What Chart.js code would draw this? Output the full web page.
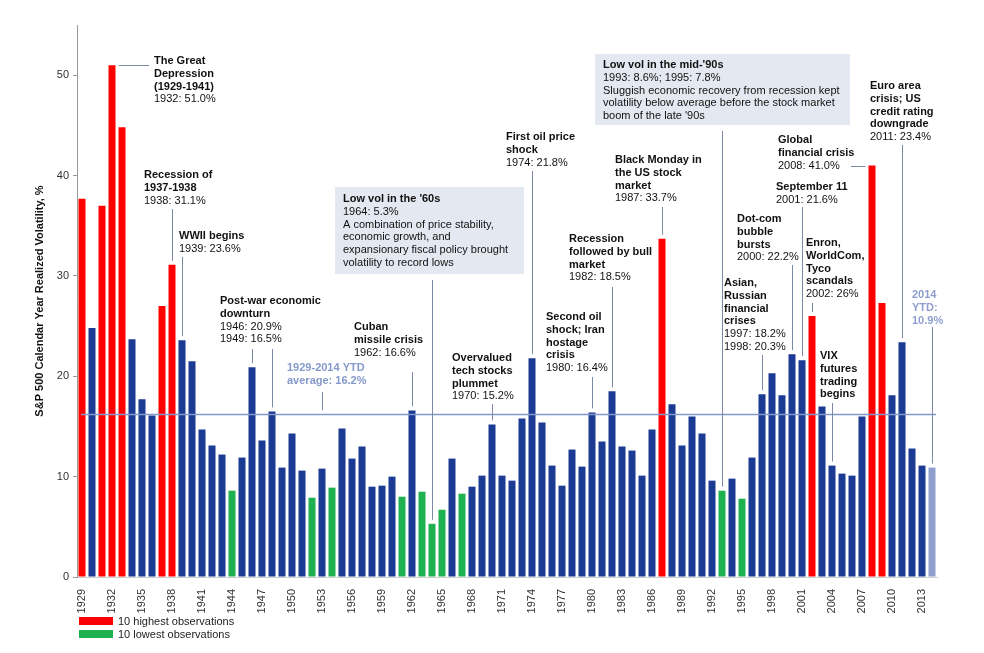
<!DOCTYPE html>
<html><head><meta charset="utf-8">
<script src="https://cdn.jsdelivr.net/npm/chart.js@4.4.0/dist/chart.umd.min.js"></script>
<style>html,body{margin:0;padding:0;background:#fff;} canvas{display:block;}</style>
</head><body>
<canvas id="c" width="984" height="653" style="width:984px;height:653px"></canvas>
<script>
const years = [1929,1930,1931,1932,1933,1934,1935,1936,1937,1938,1939,1940,1941,1942,1943,1944,1945,1946,1947,1948,1949,1950,1951,1952,1953,1954,1955,1956,1957,1958,1959,1960,1961,1962,1963,1964,1965,1966,1967,1968,1969,1970,1971,1972,1973,1974,1975,1976,1977,1978,1979,1980,1981,1982,1983,1984,1985,1986,1987,1988,1989,1990,1991,1992,1993,1994,1995,1996,1997,1998,1999,2000,2001,2002,2003,2004,2005,2006,2007,2008,2009,2010,2011,2012,2013,2014];
const vol = [37.7,24.8,37.0,51.0,44.8,23.7,17.7,16.1,27.0,31.1,23.6,21.5,14.7,13.1,12.2,8.6,11.9,20.9,13.6,16.5,10.9,14.3,10.6,7.9,10.8,8.9,14.8,11.8,13.0,9.0,9.1,10.0,8.0,16.6,8.5,5.3,6.7,11.8,8.3,9.0,10.1,15.2,10.1,9.6,15.8,21.8,15.4,11.1,9.1,12.7,11.0,16.4,13.5,18.5,13.0,12.6,10.1,14.7,33.7,17.2,13.1,16.0,14.3,9.6,8.6,9.8,7.8,11.9,18.2,20.3,18.1,22.2,21.6,26.0,17.0,11.1,10.3,10.1,16.0,41.0,27.3,18.1,23.4,12.8,11.1,10.9];
const highYears = [1929,1931,1932,1933,1937,1938,1987,2002,2008,2009];
const lowYears = [1944,1952,1954,1961,1963,1964,1965,1967,1993,1995];
const ytdYear = 2014;
const tickYears = [1929,1932,1935,1938,1941,1944,1947,1950,1953,1956,1959,1962,1965,1968,1971,1974,1977,1980,1983,1986,1989,1992,1995,1998,2001,2004,2007,2010,2013];
const yTicks = [0,10,20,30,40,50];
const AVG = 16.2;

const FONT = '"Liberation Sans", Arial, Helvetica, sans-serif';
const C_BLUE = '#1b3a94', C_RED = '#ff0000', C_GREEN = '#1fb14f', C_YTD = '#8e9fcf';
const C_AVG = '#8598ca', C_LEAD = '#7d8aa6', C_BOX = '#e4e8f0', C_TEXT = '#111111';
const LH = 12.8;

const barColors = years.map(y => highYears.includes(y) ? C_RED : lowYears.includes(y) ? C_GREEN : y === ytdYear ? C_YTD : C_BLUE);

const notes = [
  {x:154, y:61, lines:[['The Great',1],['Depression',1],['(1929-1941)',1],['1932: 51.0%',0]], leaders:[{year:1932, h:149}]},
  {x:144, y:175, lines:[['Recession of',1],['1937-1938',1],['1938: 31.1%',0]], leaders:[{year:1938, from:209}]},
  {x:179, y:236, lines:[['WWII begins',1],['1939: 23.6%',0]], leaders:[{year:1939, from:257}]},
  {x:220, y:301, lines:[['Post-war economic',1],['downturn',1],['1946: 20.9%',0],['1949: 16.5%',0]], leaders:[{year:1946, from:349},{year:1948, from:349}]},
  {x:287, y:368, color:C_AVG, lines:[['1929-2014 YTD',1],['average: 16.2%',1]], leaders:[{year:1953, value:AVG, from:392}]},
  {x:354, y:327, lines:[['Cuban',1],['missile crisis',1],['1962: 16.6%',0]], leaders:[{year:1962, from:372}]},
  {box:[335,187,524,274], x:343, y:199, lines:[["Low vol in the '60s",1],['1964: 5.3%',0],['A combination of price stability,',0],['economic growth, and',0],['expansionary fiscal policy brought',0],['volatility to record lows',0]], leaders:[{year:1964, from:280}]},
  {x:452, y:358, lines:[['Overvalued',1],['tech stocks',1],['plummet',1],['1970: 15.2%',0]], leaders:[{year:1970, from:404}]},
  {x:506, y:137, lines:[['First oil price',1],['shock',1],['1974: 21.8%',0]], leaders:[{year:1974, from:171}]},
  {x:546, y:317, lines:[['Second oil',1],['shock; Iran',1],['hostage',1],['crisis',1],['1980: 16.4%',0]], leaders:[{year:1980, from:377}]},
  {x:569, y:239, lines:[['Recession',1],['followed by bull',1],['market',1],['1982: 18.5%',0]], leaders:[{year:1982, from:287}]},
  {x:615, y:160, lines:[['Black Monday in',1],['the US stock',1],['market',1],['1987: 33.7%',0]], leaders:[{year:1987, from:207}]},
  {box:[595,54,850,125], x:603, y:65, lines:[["Low vol in the mid-'90s",1],['1993: 8.6%; 1995: 7.8%',0],['Sluggish economic recovery from recession kept',0],['volatility below average before the stock market',0],["boom of the late '90s",0]], leaders:[{year:1993, from:131}]},
  {x:724, y:283, lines:[['Asian,',1],['Russian',1],['financial',1],['crises',1],['1997: 18.2%',0],['1998: 20.3%',0]], leaders:[{year:1997, from:355}]},
  {x:737, y:219, lines:[['Dot-com',1],['bubble',1],['bursts',1],['2000: 22.2%',0]], leaders:[{year:2000, from:265}]},
  {x:776, y:187, lines:[['September 11',1],['2001: 21.6%',0]], leaders:[{year:2001, from:207}]},
  {x:778, y:140, lines:[['Global',1],['financial crisis',1],['2008: 41.0%',0]], leaders:[{year:2008, h:851}]},
  {x:806, y:243, lines:[['Enron,',1],['WorldCom,',1],['Tyco',1],['scandals',1],['2002: 26%',0]], leaders:[{year:2002, from:303}]},
  {x:820, y:356, lines:[['VIX',1],['futures',1],['trading',1],['begins',1]], leaders:[{year:2004, from:403}]},
  {x:870, y:86, lines:[['Euro area',1],['crisis; US',1],['credit rating',1],['downgrade',1],['2011: 23.4%',0]], leaders:[{year:2011, from:145}]},
  {x:912, y:295, color:C_YTD, lines:[['2014',1],['YTD:',1],['10.9%',1]], leaders:[{year:2014, from:327}]}
];

const legendItems = [['10 highest observations', C_RED], ['10 lowest observations', C_GREEN]];

const notesPlugin = {
  id: 'notes',
  afterDatasetsDraw(chart) {
    const {ctx, chartArea: a, scales: {y}} = chart;
    const meta = chart.getDatasetMeta(0);
    ctx.save();
    // average line
    const ay = Math.round(y.getPixelForValue(AVG)) + 0.5;
    ctx.strokeStyle = C_AVG; ctx.lineWidth = 1.6;
    ctx.beginPath(); ctx.moveTo(a.left + 4, ay); ctx.lineTo(a.right - 1, ay); ctx.stroke();
    for (const n of notes) {
      if (n.box) {
        ctx.fillStyle = C_BOX;
        ctx.fillRect(n.box[0], n.box[1], n.box[2] - n.box[0], n.box[3] - n.box[1]);
      }
      ctx.textBaseline = 'middle'; ctx.textAlign = 'left';
      n.lines.forEach(([t, b], k) => {
        ctx.font = (b ? 'bold ' : '') + '11px ' + FONT;
        ctx.fillStyle = n.color || C_TEXT;
        ctx.fillText(t, n.x, n.y + k * LH);
      });
      ctx.strokeStyle = C_LEAD; ctx.lineWidth = 1;
      for (const L of n.leaders) {
        const bar = meta.data[years.indexOf(L.year)];
        const top = L.value !== undefined ? y.getPixelForValue(L.value) : bar.y;
        ctx.beginPath();
        if (L.h !== undefined) {
          const bx = L.h < bar.x ? bar.x - bar.width / 2 - 3 : bar.x + bar.width / 2 + 3;
          const yy = Math.round(top) + 0.5;
          ctx.moveTo(L.h, yy); ctx.lineTo(bx, yy);
        } else {
          const lx = Math.round(bar.x) + 0.5;
          ctx.moveTo(lx, L.from); ctx.lineTo(lx, top - 4);
        }
        ctx.stroke();
      }
    }
    // legend
    ctx.font = '11px ' + FONT; ctx.textBaseline = 'middle';
    legendItems.forEach(([t, c], k) => {
      const ly = 617 + k * 13;
      ctx.fillStyle = c; ctx.fillRect(79, ly, 34, 8);
      ctx.fillStyle = '#222'; ctx.fillText(t, 118, ly + 4.5);
    });
    ctx.restore();
  }
};

new Chart(document.getElementById('c'), {
  type: 'bar',
  data: {
    labels: years.map(String),
    datasets: [{data: vol, backgroundColor: barColors, barPercentage: 0.7, categoryPercentage: 1.0}]
  },
  options: {
    responsive: false, animation: false, devicePixelRatio: 1,
    layout: {padding: {left: 0, right: 47, top: 25, bottom: 0}},
    plugins: {legend: {display: false}, tooltip: {enabled: false}},
    scales: {
      x: {
        grid: {display: false},
        border: {display: true, color: '#cfcfcf'},
        ticks: {
          autoSkip: false, maxRotation: 90, minRotation: 90, padding: 4,
          font: {family: FONT, size: 11}, color: '#333',
          callback: function (v, i) { return tickYears.includes(years[i]) ? String(years[i]) : ''; }
        },
        afterFit: s => { s.height = 76; }
      },
      y: {
        min: 0, max: 55,
        afterBuildTicks: s => { s.ticks = yTicks.map(v => ({value: v})); },
        grid: {drawOnChartArea: false, drawTicks: true, tickLength: 4, color: '#9a9a9a'},
        border: {display: true, color: '#9a9a9a'},
        ticks: {padding: 4, font: {family: FONT, size: 11}, color: '#333'},
        title: {display: true, text: 'S&P 500 Calendar Year Realized Volatility, %', font: {family: FONT, size: 11, weight: 'bold'}, color: '#111', padding: {top: 33, bottom: 0}},
        afterFit: s => { s.width = 77; }
      }
    }
  },
  plugins: [notesPlugin]
});
</script></body></html>
